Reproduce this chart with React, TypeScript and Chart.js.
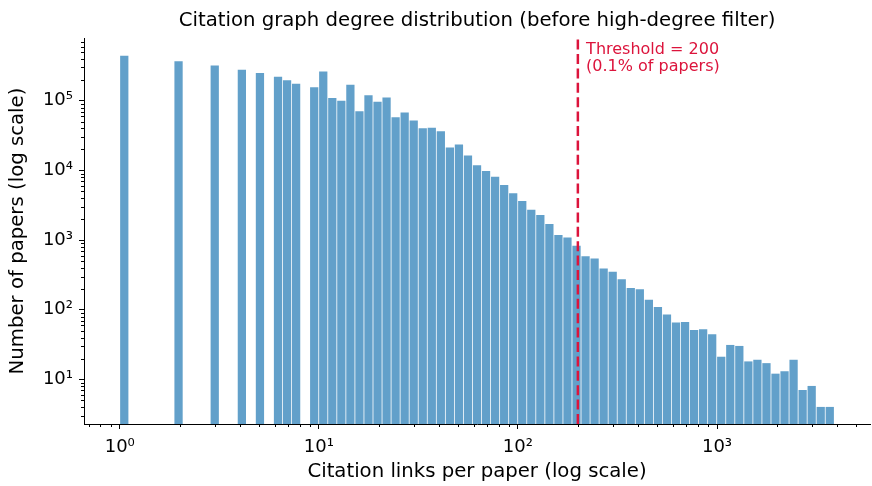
import React, { useEffect, useRef } from "react";
import { Chart, registerables } from "chart.js";

Chart.register(...registerables);

// ---- data ----
const binCenters = [
  1.0537, 1.9741, 3.0, 4.1058, 5.0603, 6.2369, 6.9248, 7.6885, 9.4786, 10.524,
  11.684, 12.973, 14.403, 15.992, 17.755, 19.713, 21.887, 24.301, 26.981, 29.956,
  33.259, 36.927, 41.0, 45.521, 50.541, 56.114, 62.302, 69.172, 76.8, 85.269,
  94.672, 105.11, 116.7, 129.57, 143.86, 159.72, 177.34, 196.89, 218.6, 242.71,
  269.47, 299.19, 332.18, 368.81, 409.48, 454.64, 504.77, 560.43, 622.23, 690.85,
  767.03, 851.61, 945.52, 1049.8, 1165.5, 1294.1, 1436.8, 1595.2, 1771.1, 1966.4,
  2183.2, 2424.0, 2691.3, 2988.1, 3317.6, 3683.4,
];
const paperCounts = [
  437000, 364000, 316000, 276000, 247000, 219000, 194000, 174000, 155000, 261000,
  108000, 99000, 168000, 70000, 119000, 96000, 110000, 57500, 67000, 51500,
  40000, 40500, 36000, 21100, 23300, 16200, 11700, 9700, 8000, 6100,
  4640, 3600, 2700, 2270, 1690, 1170, 1080, 820, 582, 538,
  386, 347, 272, 204, 195, 138, 109, 85, 65, 66,
  51, 52, 44, 21, 31, 30, 18, 19, 17, 12,
  13, 19, 7, 8, 4, 4,
];
const xMajorTicks = [1, 10, 100, 1000];
const yMajorTicks = [10, 100, 1000, 10000, 100000];
const xMinorTicks = [
  0.7, 0.8, 0.9, 2, 3, 4, 5, 6, 7, 8, 9, 20, 30, 40, 50, 60, 70, 80, 90,
  200, 300, 400, 500, 600, 700, 800, 900, 2000, 3000, 4000, 5000,
];
const yMinorTicks = [
  3, 4, 5, 6, 7, 8, 9, 20, 30, 40, 50, 60, 70, 80, 90, 200, 300, 400, 500, 600,
  700, 800, 900, 2000, 3000, 4000, 5000, 6000, 7000, 8000, 9000, 20000, 30000,
  40000, 50000, 60000, 70000, 80000, 90000, 200000, 300000, 400000, 500000,
  600000, 700000,
];
const xRange = [0.6614, 5866];
const yRange = [2.3, 794000];
const threshold = 200;
const thresholdLines = ["Threshold = 200", "(0.1% of papers)"];
const titleText = "Citation graph degree distribution (before high-degree filter)";
const xAxisTitle = "Citation links per paper (log scale)";
const yAxisTitle = "Number of papers (log scale)";

const FONT = "'DejaVu Sans', sans-serif";
const BAR_COLOR = "rgba(31,119,180,0.7)";
const RED = "#DC143C";

const SUP: Record<string, string> = {
  "0": "\u2070", "1": "\u00B9", "2": "\u00B2", "3": "\u00B3", "4": "\u2074",
  "5": "\u2075", "6": "\u2076", "7": "\u2077", "8": "\u2078", "9": "\u2079", "-": "\u207B",
};
const pow10Label = (v: number) => {
  const e = String(Math.round(Math.log10(v)));
  return "10" + e.split("").map((c) => SUP[c] || c).join("");
};

const decorations = {
  id: "decorations",
  afterDatasetsDraw(chart: any) {
    const { ctx, chartArea, scales } = chart;
    const x = scales.x;
    ctx.save();
    const tx = x.getPixelForValue(threshold);
    ctx.strokeStyle = RED;
    ctx.lineWidth = 2.5;
    ctx.setLineDash([10, 4.4]);
    ctx.beginPath();
    ctx.moveTo(tx, chartArea.bottom);
    ctx.lineTo(tx, chartArea.top);
    ctx.stroke();
    ctx.setLineDash([]);
    ctx.fillStyle = RED;
    ctx.font = `16px ${FONT}`;
    ctx.textAlign = "left";
    ctx.textBaseline = "alphabetic";
    const lx = x.getPixelForValue(threshold * 1.1);
    thresholdLines.forEach((t, i) => {
      ctx.fillText(t, lx, chartArea.top + 16 + i * 17);
    });
    ctx.restore();
  },
  afterDraw(chart: any) {
    const { ctx, chartArea, scales } = chart;
    const { x, y } = scales;
    ctx.save();
    ctx.strokeStyle = "#000";
    ctx.lineWidth = 1;
    ctx.beginPath();
    xMinorTicks.forEach((v) => {
      const p = x.getPixelForValue(v);
      if (p < chartArea.left - 0.5 || p > chartArea.right + 0.5) return;
      const px = Math.round(p) + 0.5;
      ctx.moveTo(px, chartArea.bottom);
      ctx.lineTo(px, chartArea.bottom + 3);
    });
    yMinorTicks.forEach((v) => {
      const p = y.getPixelForValue(v);
      if (p < chartArea.top - 0.5 || p > chartArea.bottom + 0.5) return;
      const py = Math.round(p) + 0.5;
      ctx.moveTo(chartArea.left, py);
      ctx.lineTo(chartArea.left - 3, py);
    });
    ctx.stroke();
    ctx.restore();
  },
};

export default function App() {
  const canvasRef = useRef<HTMLCanvasElement | null>(null);

  useEffect(() => {
    if (!canvasRef.current) return;
    const chart = new Chart(canvasRef.current, {
      type: "bar",
      data: {
        datasets: [
          {
            data: binCenters.map((c, i) => ({ x: c, y: paperCounts[i] })),
            backgroundColor: BAR_COLOR,
            borderWidth: 0,
            barThickness: 7.6,
          } as any,
        ],
      },
      options: {
        responsive: false,
        animation: false,
        devicePixelRatio: 1,
        layout: { padding: { top: 0, right: 2, bottom: 0, left: 0 } },
        plugins: {
          legend: { display: false },
          tooltip: { enabled: false },
          title: {
            display: true,
            text: titleText,
            fullSize: false,
            color: "#000",
            font: { family: FONT, size: 19.7, weight: "normal", lineHeight: 1.2 },
            padding: { top: 9.2, bottom: 5.2 },
          },
        },
        scales: {
          x: {
            type: "logarithmic",
            min: xRange[0],
            max: xRange[1],
            bounds: "data",
            offset: false,
            afterBuildTicks: (s: any) => {
              s.ticks = xMajorTicks.map((v) => ({ value: v }));
            },
            afterFit: (s: any) => {
              s.height = 62;
            },
            ticks: {
              callback: (v: any) => pow10Label(Number(v)),
              autoSkip: false,
              maxRotation: 0,
              minRotation: 0,
              padding: 8,
              color: "#000",
              font: { family: FONT, size: 18 },
            },
            grid: {
              display: true,
              drawOnChartArea: false,
              drawTicks: true,
              tickLength: 5,
              tickWidth: 1,
              tickColor: "#000",
              offset: false,
            },
            border: { display: true, color: "#000", width: 1 },
            title: {
              display: true,
              text: xAxisTitle,
              color: "#000",
              font: { family: FONT, size: 19.7 },
              padding: { top: 0, bottom: 2 },
            },
          } as any,
          y: {
            type: "logarithmic",
            min: yRange[0],
            max: yRange[1],
            bounds: "data",
            afterBuildTicks: (s: any) => {
              s.ticks = yMajorTicks.map((v) => ({ value: v }));
            },
            afterFit: (s: any) => {
              s.width = 84;
            },
            ticks: {
              callback: (v: any) => pow10Label(Number(v)),
              autoSkip: false,
              padding: 6,
              color: "#000",
              font: { family: FONT, size: 18 },
            },
            grid: {
              display: true,
              drawOnChartArea: false,
              drawTicks: true,
              tickLength: 5,
              tickWidth: 1,
              tickColor: "#000",
            },
            border: { display: true, color: "#000", width: 1 },
            title: {
              display: true,
              text: yAxisTitle,
              color: "#000",
              font: { family: FONT, size: 19.7 },
              padding: { top: 6.2, bottom: 0 },
            },
          } as any,
        },
      },
      plugins: [decorations],
    });
    return () => chart.destroy();
  }, []);

  return (
    <div style={{ position: "absolute", left: 0, top: 0, width: 872, height: 486, background: "#fff" }}>
      <canvas ref={canvasRef} width={872} height={486} style={{ display: "block", width: 872, height: 486 }} />
    </div>
  );
}
